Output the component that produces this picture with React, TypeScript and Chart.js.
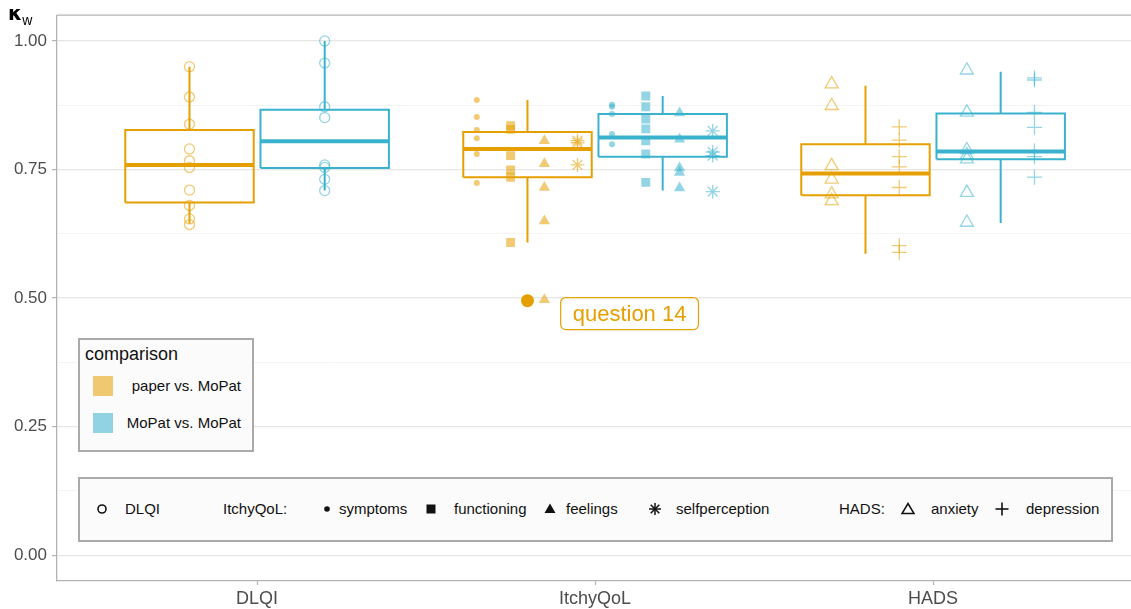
import React, { useEffect, useRef } from 'react';
import { Chart, registerables } from 'chart.js';

Chart.register(...registerables);

// ---------- data ----------
const categories = ['DLQI', 'ItchyQoL', 'HADS'];
const comparisons = ['paper vs. MoPat', 'MoPat vs. MoPat'];
const yTickValues = [0, 0.125, 0.25, 0.375, 0.5, 0.625, 0.75, 0.875, 1.0];

// box statistics per category: [lower whisker, Q1, median, Q3, upper whisker]
const boxPaper = [
  [0.645, 0.686, 0.759, 0.827, 0.95],
  [0.608, 0.735, 0.79, 0.823, 0.885],
  [0.586, 0.7, 0.742, 0.799, 0.913],
];
const boxMoPat = [
  [0.709, 0.753, 0.805, 0.866, 1.0],
  [0.709, 0.775, 0.812, 0.858, 0.893],
  [0.646, 0.77, 0.785, 0.859, 0.94],
];
// boxplot outliers (paper vs. MoPat, ItchyQoL)
const outliersPaperItchy = [0.495];

// individual kappa values
const dlqiPaper = [0.95, 0.891, 0.838, 0.79, 0.767, 0.754, 0.71, 0.68, 0.654, 0.643];
const dlqiMoPat = [1.0, 0.957, 0.872, 0.851, 0.759, 0.754, 0.731, 0.709];
const symptomsPaper = [0.885, 0.852, 0.827, 0.811, 0.78, 0.724];
const functioningPaper = [0.835, 0.828, 0.777, 0.749, 0.735, 0.608];
const feelingsPaper = [0.806, 0.761, 0.715, 0.65, 0.497];
const selfperceptionPaper = [0.806, 0.802, 0.759];
const symptomsMoPat = [0.876, 0.872, 0.858, 0.819, 0.799];
const functioningMoPat = [0.893, 0.872, 0.848, 0.829, 0.806, 0.78, 0.725];
const feelingsMoPat = [0.86, 0.809, 0.753, 0.744, 0.714];
const selfperceptionMoPat = [0.825, 0.784, 0.777, 0.707];
const anxietyPaper = [0.916, 0.874, 0.757, 0.731, 0.702, 0.689];
const depressionPaper = [0.833, 0.807, 0.775, 0.755, 0.715, 0.602, 0.589];
const anxietyMoPat = [0.943, 0.861, 0.788, 0.778, 0.77, 0.705, 0.647];
const depressionMoPat = [0.928, 0.924, 0.861, 0.832, 0.786, 0.775, 0.735];

const annotationText = 'question 14';
const annotationX = 2.102;
const annotationY = 0.47;

// ---------- styles ----------
const ORANGE = '#E69F00';
const BLUE = '#3AB2CD';
const ORANGE_PT = 'rgba(230,159,0,0.55)';
const BLUE_PT = 'rgba(58,178,205,0.55)';
const LINE_COLORS = [ORANGE, BLUE];
const PT_COLORS = [ORANGE_PT, BLUE_PT];
const FONT = '"Liberation Sans", Arial, Helvetica, sans-serif';

// the plot panel continues slightly past the right edge of the picture
const CANVAS_W = 1145;

const GROUP_OFF = [-0.2, 0.2];
const BOX_HALF = 0.19;
const ITCHY_OFF = [-0.15, -0.05, 0.05, 0.148];
const HADS_OFF = [-0.1, 0.1];

type Shape = { style: string; r: number; filled: boolean; bw: number };
const SHAPES: Record<string, Shape> = {
  dlqi: { style: 'circle', r: 5, filled: false, bw: 1.3 },
  symptoms: { style: 'circle', r: 3, filled: true, bw: 0 },
  functioning: { style: 'rect', r: 6.3, filled: true, bw: 0 },
  feelings: { style: 'triangle', r: 6.5, filled: true, bw: 0 },
  selfperception: { style: 'star', r: 7, filled: false, bw: 1.3 },
  anxiety: { style: 'triangle', r: 7.5, filled: false, bw: 1.3 },
  depression: { style: 'cross', r: 7.5, filled: false, bw: 1.3 },
};

function pointDataset(values: number[], x: number, g: number, shapeKey: string) {
  const s = SHAPES[shapeKey];
  const c = PT_COLORS[g];
  return {
    type: 'scatter' as const,
    data: values.map((v) => ({ x, y: v })),
    pointStyle: s.style,
    pointRadius: s.r,
    pointBorderWidth: s.bw,
    pointBorderColor: c,
    pointBackgroundColor: s.filled ? c : 'rgba(0,0,0,0)',
    showLine: false,
    order: 1,
  };
}

function lineDataset(pts: { x: number; y: number }[], color: string, width: number) {
  return {
    type: 'scatter' as const,
    data: pts,
    showLine: true,
    borderColor: color,
    borderWidth: width,
    pointRadius: 0,
    fill: false,
    borderJoinStyle: 'miter' as const,
    borderCapStyle: 'butt' as const,
    order: 2,
  };
}

function boxDatasets(stats: number[], center: number, color: string) {
  const [lo, q1, med, q3, hi] = stats;
  const l = center - BOX_HALF;
  const r = center + BOX_HALF;
  return [
    lineDataset([{ x: center, y: q3 }, { x: center, y: hi }], color, 2),
    lineDataset([{ x: center, y: lo }, { x: center, y: q1 }], color, 2),
    lineDataset(
      [{ x: l, y: q1 }, { x: r, y: q1 }, { x: r, y: q3 }, { x: l, y: q3 }, { x: l, y: q1 }],
      color,
      2
    ),
    lineDataset([{ x: l, y: med }, { x: r, y: med }], color, 4),
  ];
}

function buildDatasets() {
  const ds: any[] = [];
  [boxPaper, boxMoPat].forEach((boxes, g) => {
    boxes.forEach((st, i) => {
      ds.push(...boxDatasets(st, i + 1 + GROUP_OFF[g], LINE_COLORS[g]));
    });
  });
  // DLQI
  ds.push(pointDataset(dlqiPaper, 1 + GROUP_OFF[0], 0, 'dlqi'));
  ds.push(pointDataset(dlqiMoPat, 1 + GROUP_OFF[1], 1, 'dlqi'));
  // ItchyQoL
  const itchy = [
    [symptomsPaper, functioningPaper, feelingsPaper, selfperceptionPaper],
    [symptomsMoPat, functioningMoPat, feelingsMoPat, selfperceptionMoPat],
  ];
  const itchyKeys = ['symptoms', 'functioning', 'feelings', 'selfperception'];
  itchy.forEach((arr, g) =>
    arr.forEach((vals, k) =>
      ds.push(pointDataset(vals, 2 + GROUP_OFF[g] + ITCHY_OFF[k], g, itchyKeys[k]))
    )
  );
  // HADS
  const hads = [
    [anxietyPaper, depressionPaper],
    [anxietyMoPat, depressionMoPat],
  ];
  const hadsKeys = ['anxiety', 'depression'];
  hads.forEach((arr, g) =>
    arr.forEach((vals, k) =>
      ds.push(pointDataset(vals, 3 + GROUP_OFF[g] + HADS_OFF[k], g, hadsKeys[k]))
    )
  );
  // outlier
  ds.push({
    type: 'scatter',
    data: outliersPaperItchy.map((v) => ({ x: 2 + GROUP_OFF[0], y: v })),
    pointStyle: 'circle',
    pointRadius: 6.5,
    pointBorderWidth: 0,
    pointBackgroundColor: ORANGE,
    pointBorderColor: ORANGE,
    order: 0,
  });
  return ds;
}

const isMajor = (v: number) => Math.abs(v / 0.25 - Math.round(v / 0.25)) < 1e-6;

const panelPlugin = {
  id: 'panelDecor',
  afterDraw(chart: any) {
    const { ctx, chartArea: a, scales } = chart;
    ctx.save();
    ctx.strokeStyle = '#b3b3b3';
    ctx.lineWidth = 1.3;
    ctx.beginPath();
    ctx.moveTo(a.left, a.top);
    ctx.lineTo(a.right, a.top);
    ctx.stroke();

    const cx = scales.x.getPixelForValue(annotationX);
    const cy = scales.y.getPixelForValue(annotationY);
    ctx.font = `22px ${FONT}`;
    const tw = ctx.measureText(annotationText).width;
    const w = tw + 24;
    const h = 32;
    const x0 = cx - w / 2;
    const y0 = cy - h / 2;
    const rr = 5;
    ctx.beginPath();
    ctx.moveTo(x0 + rr, y0);
    ctx.lineTo(x0 + w - rr, y0);
    ctx.arcTo(x0 + w, y0, x0 + w, y0 + rr, rr);
    ctx.lineTo(x0 + w, y0 + h - rr);
    ctx.arcTo(x0 + w, y0 + h, x0 + w - rr, y0 + h, rr);
    ctx.lineTo(x0 + rr, y0 + h);
    ctx.arcTo(x0, y0 + h, x0, y0 + h - rr, rr);
    ctx.lineTo(x0, y0 + rr);
    ctx.arcTo(x0, y0, x0 + rr, y0, rr);
    ctx.closePath();
    ctx.fillStyle = '#ffffff';
    ctx.fill();
    ctx.strokeStyle = ORANGE;
    ctx.lineWidth = 1.2;
    ctx.stroke();
    ctx.fillStyle = ORANGE;
    ctx.textAlign = 'center';
    ctx.textBaseline = 'middle';
    ctx.fillText(annotationText, cx, cy + 1);
    ctx.restore();
  },
};

// ---------- legend symbols ----------
function Sym({ kind }: { kind: string }) {
  const s = 16;
  const c = s / 2;
  let el: any = null;
  const k = '#111';
  if (kind === 'dlqi') el = <circle cx={c} cy={c} r={4} fill="none" stroke={k} strokeWidth={1.6} />;
  if (kind === 'symptoms') el = <circle cx={c} cy={c} r={2.8} fill={k} />;
  if (kind === 'functioning') el = <rect x={c - 4.5} y={c - 4.5} width={9} height={9} fill={k} />;
  if (kind === 'feelings') el = <polygon points={`${c},${c - 5.5} ${c + 5.5},${c + 4} ${c - 5.5},${c + 4}`} fill={k} />;
  if (kind === 'selfperception')
    el = (
      <g stroke={k} strokeWidth={1.5}>
        <line x1={c} y1={c - 6} x2={c} y2={c + 6} />
        <line x1={c - 6} y1={c} x2={c + 6} y2={c} />
        <line x1={c - 4.3} y1={c - 4.3} x2={c + 4.3} y2={c + 4.3} />
        <line x1={c - 4.3} y1={c + 4.3} x2={c + 4.3} y2={c - 4.3} />
      </g>
    );
  if (kind === 'anxiety')
    el = <polygon points={`${c},${c - 5.5} ${c + 6},${c + 4.5} ${c - 6},${c + 4.5}`} fill="none" stroke={k} strokeWidth={1.5} />;
  if (kind === 'depression')
    el = (
      <g stroke={k} strokeWidth={1.6}>
        <line x1={c} y1={c - 6.5} x2={c} y2={c + 6.5} />
        <line x1={c - 6.5} y1={c} x2={c + 6.5} y2={c} />
      </g>
    );
  return (
    <svg width={s} height={s} style={{ display: 'block' }}>
      {el}
    </svg>
  );
}

const shapeLegendItems: [string, string, number, number][] = [
  // [symbol kind, label, symbol centre x (relative to legend box), label left x]
  ['dlqi', 'DLQI', 24, 47],
  ['', 'ItchyQoL:', 0, 145],
  ['symptoms', 'symptoms', 249, 261],
  ['functioning', 'functioning', 353, 376],
  ['feelings', 'feelings', 472, 488],
  ['selfperception', 'selfperception', 577, 598],
  ['', 'HADS:', 0, 761],
  ['anxiety', 'anxiety', 830, 853],
  ['depression', 'depression', 924, 948],
];

export default function App() {
  const canvasRef = useRef<HTMLCanvasElement | null>(null);

  useEffect(() => {
    const canvas = canvasRef.current;
    if (!canvas) return;
    const chart = new Chart(canvas, {
      type: 'scatter',
      data: { datasets: buildDatasets() },
      options: {
        responsive: false,
        animation: false,
        events: [],
        layout: { autoPadding: false, padding: { top: 14, left: 0, right: 0, bottom: 0 } },
        plugins: { legend: { display: false }, tooltip: { enabled: false } },
        scales: {
          x: {
            type: 'linear',
            min: 0.408,
            max: 3.627,
            afterBuildTicks: (scale: any) => {
              scale.ticks = categories.map((_, i) => ({ value: i + 1 }));
            },
            afterFit: (scale: any) => {
              scale.height = 28;
            },
            ticks: {
              autoSkip: false,
              maxRotation: 0,
              padding: 3,
              color: '#4d4d4d',
              font: { family: FONT, size: 18 },
              callback: (v: any) => categories[Math.round(v) - 1] ?? '',
            },
            grid: {
              drawOnChartArea: false,
              drawTicks: true,
              tickLength: 4,
              tickColor: '#b3b3b3',
              tickWidth: 1.2,
            },
            border: { display: true, color: '#b3b3b3', width: 1.3 },
          },
          y: {
            type: 'linear',
            min: -0.05,
            max: 1.05,
            afterBuildTicks: (scale: any) => {
              scale.ticks = yTickValues.map((v) => ({ value: v }));
            },
            afterFit: (scale: any) => {
              scale.width = 57;
            },
            ticks: {
              autoSkip: false,
              padding: 5,
              color: '#4d4d4d',
              font: { family: FONT, size: 17 },
              callback: (v: any) => (isMajor(Number(v)) ? Number(v).toFixed(2) : ''),
            },
            grid: {
              drawTicks: true,
              tickLength: 5,
              color: (ctx: any) => (isMajor(ctx.tick.value) ? '#e6e6e6' : '#f1f1f1'),
              lineWidth: (ctx: any) => (isMajor(ctx.tick.value) ? 1.2 : 0.8),
              tickColor: (ctx: any) => (isMajor(ctx.tick.value) ? '#b3b3b3' : 'rgba(0,0,0,0)'),
              tickWidth: 1.2,
            },
            border: { display: true, color: '#b3b3b3', width: 1.3 },
          },
        },
      },
      plugins: [panelPlugin],
    } as any);
    return () => chart.destroy();
  }, []);

  return (
    <div style={{ position: 'absolute', left: 0, top: 0, width: 1131, height: 609, background: '#fff', fontFamily: FONT, overflow: 'hidden' }}>
      <canvas ref={canvasRef} width={CANVAS_W} height={609} style={{ position: 'absolute', left: 0, top: 0 }} />
      {/* y-axis title */}
      <div style={{ position: 'absolute', left: 8, top: 3, color: '#000', whiteSpace: 'nowrap', lineHeight: 1 }}>
        <span style={{ fontSize: 20, fontWeight: 'bold', fontFamily: '"DejaVu Sans", sans-serif' }}>κ</span>
        <span style={{ fontSize: 14, position: 'relative', top: 5 }}>w</span>
      </div>
      {/* comparison legend */}
      <div
        style={{
          position: 'absolute',
          left: 78,
          top: 338,
          width: 176,
          height: 114,
          boxSizing: 'border-box',
          border: '2px solid #aaaaaa',
          background: '#fbfbfb',
        }}
      >
        <div style={{ position: 'absolute', left: 5, top: 4, fontSize: 18, color: '#111', whiteSpace: 'nowrap' }}>comparison</div>
        {comparisons.map((lab, i) => (
          <React.Fragment key={lab}>
            <div
              style={{
                position: 'absolute',
                left: 13,
                top: 36 + i * 37,
                width: 20,
                height: 20,
                background: PT_COLORS[i],
              }}
            />
            <div
              style={{
                position: 'absolute',
                right: 11,
                top: 37 + i * 37,
                fontSize: 15,
                lineHeight: '18px',
                color: '#111',
                whiteSpace: 'nowrap',
              }}
            >
              {lab}
            </div>
          </React.Fragment>
        ))}
      </div>
      {/* shape legend */}
      <div
        style={{
          position: 'absolute',
          left: 78,
          top: 477,
          width: 1035,
          height: 65,
          boxSizing: 'border-box',
          border: '2px solid #aaaaaa',
          background: '#fbfbfb',
        }}
      >
        {shapeLegendItems.map(([kind, lab, sx, lx]) => (
          <React.Fragment key={lab}>
            {kind ? (
              <div style={{ position: 'absolute', left: sx - 2 - 8, top: 32 - 2 - 8 }}>
                <Sym kind={kind} />
              </div>
            ) : null}
            <div
              style={{
                position: 'absolute',
                left: lx - 2,
                top: 21,
                fontSize: 15,
                lineHeight: '18px',
                color: '#111',
                whiteSpace: 'nowrap',
              }}
            >
              {lab}
            </div>
          </React.Fragment>
        ))}
      </div>
    </div>
  );
}
